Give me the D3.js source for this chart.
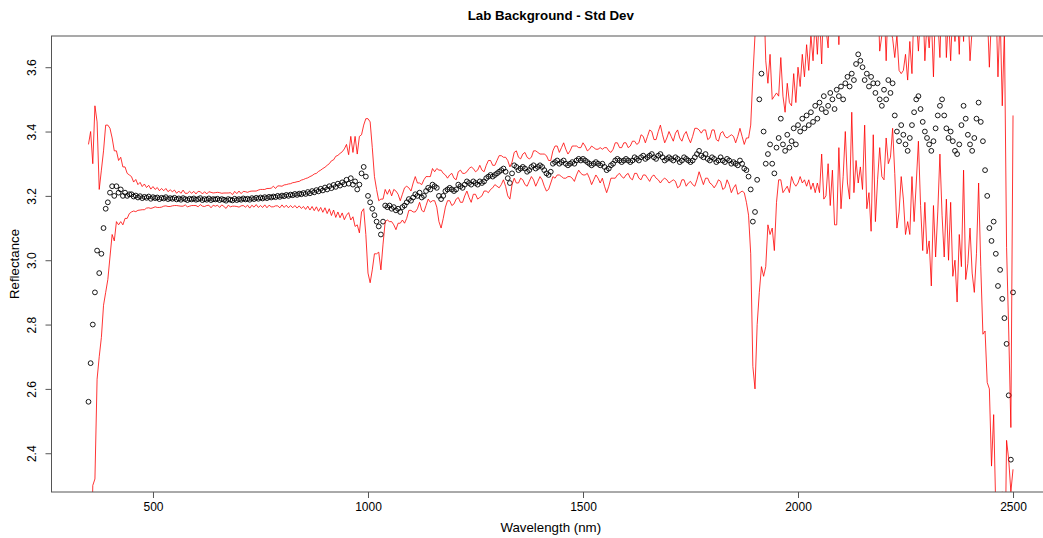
<!DOCTYPE html>
<html>
<head>
<meta charset="utf-8">
<script src="https://cdn.jsdelivr.net/npm/d3@7"></script>
<style>
  body { margin: 0; background: #fff; }
  text { font-family: "Liberation Sans", Arial, sans-serif; fill: #000; }
</style>
</head>
<body>
<div id="root"></div>
<script>
// wavelengths run from 350 to 2500 nm in 5 nm steps
const wlStart = 350, wlStep = 5;

// mean reflectance (circles), one row per 100 nm
const meanRefl = [
  2.56, 2.68, 2.80, 2.90, 3.03, 2.96, 3.02, 3.10, 3.16, 3.18, 3.21, 3.23, 3.20, 3.23, 3.21, 3.22, 3.20, 3.21, 3.20, 3.205,
  3.205, 3.198, 3.201, 3.195, 3.199, 3.193, 3.197, 3.194, 3.198, 3.191, 3.196, 3.193, 3.195, 3.19, 3.194, 3.192, 3.196, 3.19, 3.193, 3.191,
  3.194, 3.189, 3.192, 3.188, 3.193, 3.19, 3.187, 3.191, 3.189, 3.192, 3.188, 3.19, 3.193, 3.187, 3.19, 3.188, 3.192, 3.187, 3.19, 3.189,
  3.191, 3.187, 3.19, 3.188, 3.185, 3.19, 3.188, 3.186, 3.191, 3.187, 3.19, 3.188, 3.192, 3.189, 3.191, 3.188, 3.193, 3.19, 3.194, 3.191,
  3.195, 3.192, 3.196, 3.193, 3.197, 3.195, 3.198, 3.196, 3.20, 3.197, 3.201, 3.199, 3.203, 3.20, 3.204, 3.202, 3.206, 3.203, 3.207, 3.205,
  3.209, 3.206, 3.212, 3.208, 3.215, 3.211, 3.218, 3.214, 3.222, 3.217, 3.226, 3.22, 3.23, 3.224, 3.234, 3.228, 3.238, 3.232, 3.242, 3.236,
  3.25, 3.238, 3.255, 3.235, 3.245, 3.22, 3.235, 3.27, 3.29, 3.26, 3.20, 3.18, 3.16, 3.14, 3.12, 3.105, 3.08, 3.12, 3.17, 3.165,
  3.17, 3.16, 3.165, 3.155, 3.16, 3.15, 3.165, 3.17, 3.18, 3.19, 3.185, 3.195, 3.205, 3.20, 3.21, 3.195, 3.20, 3.215, 3.225, 3.22,
  3.235, 3.23, 3.225, 3.20, 3.19, 3.20, 3.215, 3.22, 3.225, 3.22, 3.215, 3.22, 3.235, 3.23, 3.225, 3.235, 3.245, 3.24, 3.235, 3.245,
  3.24, 3.235, 3.245, 3.24, 3.245, 3.255, 3.26, 3.265, 3.26, 3.265, 3.27, 3.275, 3.28, 3.285, 3.275, 3.255, 3.24, 3.27, 3.295, 3.29,
  3.28, 3.285, 3.29, 3.285, 3.275, 3.28, 3.29, 3.295, 3.285, 3.29, 3.295, 3.29, 3.28, 3.27, 3.265, 3.275, 3.30, 3.305, 3.31, 3.30,
  3.305, 3.31, 3.30, 3.295, 3.30, 3.305, 3.30, 3.31, 3.315, 3.31, 3.315, 3.31, 3.305, 3.30, 3.295, 3.30, 3.305, 3.30, 3.295, 3.30,
  3.29, 3.28, 3.285, 3.295, 3.30, 3.31, 3.315, 3.31, 3.305, 3.31, 3.315, 3.31, 3.305, 3.31, 3.32, 3.315, 3.31, 3.32, 3.325, 3.315,
  3.32, 3.325, 3.33, 3.32, 3.315, 3.325, 3.33, 3.32, 3.31, 3.315, 3.32, 3.315, 3.31, 3.32, 3.315, 3.305, 3.31, 3.32, 3.315, 3.31,
  3.305, 3.31, 3.32, 3.33, 3.34, 3.325, 3.32, 3.33, 3.315, 3.31, 3.32, 3.315, 3.305, 3.31, 3.32, 3.31, 3.305, 3.315, 3.31, 3.30,
  3.305, 3.30, 3.295, 3.31, 3.30, 3.285, 3.28, 3.26, 3.22, 3.12, 3.15, 3.25, 3.50, 3.58, 3.40, 3.30, 3.33, 3.36, 3.30, 3.27,
  3.35, 3.38, 3.44, 3.36, 3.34, 3.39, 3.35, 3.37, 3.41, 3.36, 3.42, 3.40, 3.44, 3.41, 3.45, 3.42, 3.46, 3.43, 3.48, 3.44,
  3.49, 3.47, 3.51, 3.46, 3.48, 3.52, 3.50, 3.47, 3.53, 3.51, 3.54, 3.50, 3.55, 3.57, 3.54, 3.58, 3.56, 3.61, 3.64, 3.62,
  3.60, 3.56, 3.58, 3.54, 3.57, 3.55, 3.52, 3.55, 3.50, 3.48, 3.53, 3.50, 3.56, 3.52, 3.55, 3.45, 3.40, 3.37, 3.42, 3.39,
  3.36, 3.34, 3.38, 3.42, 3.46, 3.50, 3.51, 3.47, 3.43, 3.40, 3.38, 3.36, 3.34, 3.37, 3.41, 3.45, 3.48, 3.50, 3.45, 3.41,
  3.38, 3.40, 3.37, 3.34, 3.33, 3.36, 3.42, 3.48, 3.44, 3.39, 3.36, 3.34, 3.38, 3.44, 3.49, 3.43, 3.37, 3.28, 3.20, 3.10,
  3.06, 3.12, 3.02, 2.92, 2.97, 2.88, 2.82, 2.74, 2.58, 2.38, 2.90
];

// standard deviation at the same wavelengths (red lines are mean +/- sd)
const sdRefl = [
  0.80, 0.72, 0.50, 0.58, 0.40, 0.26, 0.26, 0.24, 0.26, 0.24, 0.20, 0.15, 0.14, 0.11, 0.10, 0.10, 0.09, 0.08, 0.07, 0.06,
  0.055, 0.045, 0.05, 0.04, 0.043, 0.036, 0.04, 0.032, 0.035, 0.03, 0.033, 0.027, 0.031, 0.026, 0.029, 0.024, 0.027, 0.023, 0.026, 0.022,
  0.024, 0.019, 0.023, 0.02, 0.025, 0.018, 0.021, 0.023, 0.019, 0.022, 0.018, 0.024, 0.02, 0.019, 0.023, 0.018, 0.021, 0.024, 0.019, 0.021,
  0.02, 0.023, 0.018, 0.021, 0.024, 0.019, 0.022, 0.018, 0.023, 0.02, 0.025, 0.019, 0.022, 0.024, 0.02, 0.026, 0.022, 0.025, 0.021, 0.027,
  0.025, 0.028, 0.024, 0.03, 0.026, 0.029, 0.032, 0.027, 0.031, 0.034, 0.029, 0.035, 0.032, 0.037, 0.034, 0.039, 0.036, 0.041, 0.038, 0.044,
  0.042, 0.048, 0.044, 0.052, 0.048, 0.057, 0.052, 0.062, 0.058, 0.068, 0.063, 0.075, 0.07, 0.085, 0.078, 0.095, 0.088, 0.10, 0.095, 0.11,
  0.11, 0.09, 0.13, 0.10, 0.14, 0.11, 0.15, 0.12, 0.13, 0.18, 0.24, 0.25, 0.19, 0.12, 0.10, 0.08, 0.11, 0.07, 0.05, 0.04,
  0.05, 0.04, 0.055, 0.06, 0.045, 0.035, 0.04, 0.055, 0.05, 0.035, 0.03, 0.045, 0.055, 0.04, 0.03, 0.04, 0.05, 0.045, 0.035, 0.04,
  0.05, 0.045, 0.06, 0.08, 0.09, 0.07, 0.05, 0.035, 0.04, 0.05, 0.04, 0.03, 0.04, 0.05, 0.045, 0.035, 0.03, 0.045, 0.055, 0.04,
  0.035, 0.045, 0.05, 0.04, 0.03, 0.04, 0.05, 0.045, 0.035, 0.03, 0.04, 0.05, 0.045, 0.035, 0.045, 0.055, 0.05, 0.035, 0.04, 0.05,
  0.04, 0.03, 0.04, 0.05, 0.045, 0.035, 0.03, 0.045, 0.055, 0.045, 0.035, 0.04, 0.05, 0.055, 0.045, 0.035, 0.04, 0.05, 0.045, 0.035,
  0.045, 0.055, 0.045, 0.035, 0.04, 0.05, 0.055, 0.045, 0.035, 0.04, 0.05, 0.045, 0.035, 0.045, 0.06, 0.05, 0.04, 0.045, 0.055, 0.045,
  0.06, 0.07, 0.055, 0.04, 0.045, 0.055, 0.05, 0.04, 0.045, 0.055, 0.05, 0.04, 0.05, 0.06, 0.05, 0.045, 0.055, 0.07, 0.06, 0.05,
  0.065, 0.08, 0.07, 0.055, 0.06, 0.075, 0.09, 0.07, 0.055, 0.065, 0.08, 0.07, 0.06, 0.075, 0.09, 0.075, 0.06, 0.07, 0.085, 0.07,
  0.06, 0.075, 0.09, 0.08, 0.065, 0.07, 0.085, 0.075, 0.06, 0.07, 0.085, 0.09, 0.07, 0.06, 0.075, 0.09, 0.08, 0.065, 0.075, 0.09,
  0.08, 0.065, 0.09, 0.10, 0.085, 0.075, 0.10, 0.12, 0.20, 0.45, 0.55, 0.45, 0.60, 0.60, 0.45, 0.32, 0.22, 0.28, 0.20, 0.24,
  0.17, 0.13, 0.19, 0.15, 0.12, 0.16, 0.14, 0.11, 0.17, 0.13, 0.18, 0.14, 0.20, 0.16, 0.22, 0.17, 0.24, 0.19, 0.27, 0.20,
  0.28, 0.14, 0.32, 0.26, 0.18, 0.35, 0.22, 0.36, 0.42, 0.16, 0.38, 0.24, 0.15, 0.33, 0.35, 0.12, 0.35, 0.30, 0.40, 0.33,
  0.38, 0.14, 0.42, 0.33, 0.48, 0.16, 0.40, 0.30, 0.15, 0.22, 0.28, 0.12, 0.26, 0.20, 0.14, 0.18, 0.30, 0.22, 0.16, 0.20,
  0.28, 0.22, 0.30, 0.16, 0.34, 0.26, 0.14, 0.30, 0.40, 0.22, 0.36, 0.30, 0.42, 0.20, 0.40, 0.30, 0.15, 0.36, 0.44, 0.22,
  0.38, 0.22, 0.42, 0.34, 0.46, 0.28, 0.44, 0.20, 0.50, 0.40, 0.26, 0.38, 0.48, 0.42, 0.25, 0.45, 0.60, 0.50, 0.58, 0.50,
  0.70, 0.60, 0.80, 0.65, 0.80, 0.60, 0.90, 0.30, 0.20, 0.10, 0.55
];

const xTicks = [500, 1000, 1500, 2000, 2500];
const yTicks = [2.4, 2.6, 2.8, 3.0, 3.2, 3.4, 3.6];

const W = 1043, H = 538;
const plot = {left: 51.5, right: 1050, top: 36, bottom: 492};

const data = meanRefl.map((m, i) => ({wl: wlStart + i * wlStep, mean: m, sd: sdRefl[i]}));

const svg = d3.select("#root").append("svg")
    .attr("width", W)
    .attr("height", H);

const x = d3.scaleLinear()
    .domain([264, 2586])
    .range([plot.left, plot.right]);

const y = d3.scaleLinear()
    .domain([2.2795, 3.697])
    .range([plot.bottom, plot.top]);

svg.append("clipPath")
    .attr("id", "clip")
  .append("rect")
    .attr("x", plot.left)
    .attr("y", plot.top)
    .attr("width", plot.right - plot.left)
    .attr("height", plot.bottom - plot.top);

const inner = svg.append("g").attr("clip-path", "url(#clip)");

// points for the mean
inner.selectAll(".dot")
    .data(data)
    .enter().append("circle")
    .attr("class", "dot")
    .attr("cx", d => x(d.wl))
    .attr("cy", d => y(d.mean))
    .attr("r", 2.4)
    .attr("fill", "none")
    .attr("stroke", "#000")
    .attr("stroke-width", 0.9);

// mean + sd and mean - sd
const upper = d3.line().x(d => x(d.wl)).y(d => y(d.mean + d.sd));
const lower = d3.line().x(d => x(d.wl)).y(d => y(d.mean - d.sd));

[upper, lower].forEach(fn => {
  inner.append("path")
      .datum(data)
      .attr("d", fn)
      .attr("fill", "none")
      .attr("stroke", "#ff0000")
      .attr("stroke-width", 0.8);
});

// frame
svg.append("rect")
    .attr("x", plot.left)
    .attr("y", plot.top)
    .attr("width", plot.right - plot.left)
    .attr("height", plot.bottom - plot.top)
    .attr("fill", "none")
    .attr("stroke", "#555")
    .attr("stroke-width", 1);

// axes
const xAxis = svg.append("g")
    .attr("transform", "translate(0," + plot.bottom + ")")
    .call(d3.axisBottom(x).tickValues(xTicks).tickSize(6).tickPadding(4)
      .tickFormat(d3.format("d")).tickSizeOuter(0));
xAxis.select(".domain").remove();
xAxis.selectAll("line").attr("stroke", "#555");
xAxis.selectAll("text")
    .attr("font-size", "12px")
    .attr("font-family", "Liberation Sans, Arial, sans-serif")
    .attr("fill", "#000");

const yAxis = svg.append("g")
    .attr("transform", "translate(" + plot.left + ",0)")
    .call(d3.axisLeft(y).tickValues(yTicks).tickSize(6).tickFormat(d3.format(".1f")).tickSizeOuter(0));
yAxis.select(".domain").remove();
yAxis.selectAll("line").attr("stroke", "#555");
yAxis.selectAll("text")
    .attr("font-size", "12px")
    .attr("font-family", "Liberation Sans, Arial, sans-serif")
    .attr("fill", "#000")
    .attr("text-anchor", "middle")
    .attr("x", 0)
    .attr("y", -16)
    .attr("dy", 0)
    .attr("transform", "rotate(-90)");

// titles
svg.append("text")
    .attr("x", (plot.left + plot.right) / 2)
    .attr("y", 20)
    .attr("text-anchor", "middle")
    .attr("font-size", "13.3px")
    .attr("font-weight", "bold")
    .text("Lab Background - Std Dev");

svg.append("text")
    .attr("x", (plot.left + plot.right) / 2)
    .attr("y", 532)
    .attr("text-anchor", "middle")
    .attr("font-size", "13.3px")
    .text("Wavelength (nm)");

svg.append("text")
    .attr("transform", "translate(18.5," + (plot.top + plot.bottom) / 2 + ") rotate(-90)")
    .attr("text-anchor", "middle")
    .attr("font-size", "13.3px")
    .text("Reflectance");
</script>
</body>
</html>
